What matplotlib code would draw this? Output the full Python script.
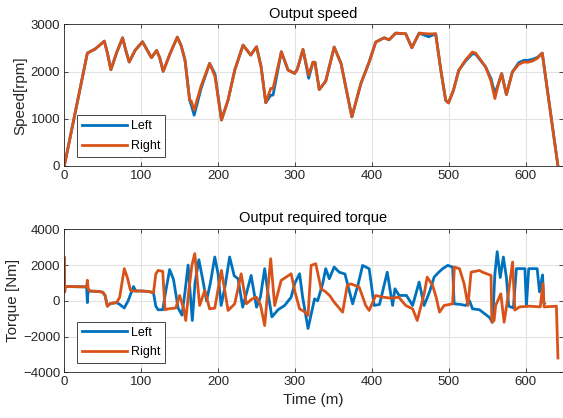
import matplotlib
matplotlib.use("Agg")
import matplotlib.pyplot as plt

plt.rcParams['font.family'] = ['Liberation Sans', 'DejaVu Sans']

# speed (rpm) vs time
t_speed = [0, 30, 40, 46, 52, 56, 60.6, 68, 75.8, 80, 84.4, 92, 101.7, 108, 113.4, 120, 124, 128.6, 138, 147,
           152, 157, 163, 165, 168.9, 178, 189, 196, 204.4, 213, 221.7, 232.5, 242.5, 250, 256, 262, 268.5, 271.5,
           282.3, 291, 299.6, 303, 310.4, 317.8, 323.4, 326, 331.6, 340, 351, 360, 367, 374, 385.7, 396.5, 405,
           416, 422.5, 431, 444, 452, 461.5, 474, 483, 490, 496, 499.6, 506, 513, 522, 530.7, 535, 548, 555, 560,
           564, 568.8, 575, 582.7, 591, 597.8, 603, 608.7, 615, 621.6, 642]
speed_right = [0, 2394, 2480, 2560, 2648, 2400, 2042, 2400, 2718, 2450, 2204, 2450, 2634, 2450, 2296, 2450, 2300,
               2007, 2400, 2732, 2550, 2245, 1398, 1380, 1186, 1700, 2175, 1900, 975, 1398, 2034, 2563, 2352, 2528,
               2100, 1341, 1645, 1645, 2422, 2034, 1963, 2050, 2472, 1928, 2200, 2200, 1620, 1800, 2521, 2169, 1600,
               1042, 1746, 2204, 2627, 2718, 2676, 2817, 2803, 2507, 2817, 2800, 2803, 2000, 1394, 1338, 1600, 2028,
               2250, 2415, 2394, 2099, 1800, 1430, 1700, 1958, 1514, 1993, 2155, 2204, 2200, 2225, 2280, 2394, 0]
speed_left = [0, 2394, 2480, 2560, 2648, 2400, 2042, 2400, 2718, 2450, 2204, 2450, 2634, 2450, 2296, 2450, 2300,
              2007, 2400, 2732, 2550, 2245, 1398, 1300, 1077, 1650, 2175, 1950, 975, 1398, 2034, 2563, 2352, 2528,
              2100, 1341, 1500, 1504, 2422, 2034, 1963, 2050, 2472, 1860, 2200, 2200, 1620, 1800, 2521, 2169, 1600,
              1042, 1746, 2204, 2627, 2718, 2676, 2817, 2803, 2507, 2817, 2740, 2803, 2000, 1394, 1338, 1600, 2028,
              2230, 2380, 2370, 2099, 1850, 1535, 1720, 1958, 1514, 1993, 2190, 2240, 2240, 2260, 2300, 2394, 0]

# torque (Nm) vs time
t_tq_left = [0, 0.5, 1, 29, 30, 31, 33, 45, 50, 53, 56, 60, 68, 72, 78, 83, 90, 93, 100, 110, 116, 119, 122, 128,
             131, 137, 142, 148, 153, 157, 161, 166.5, 170, 175, 180, 185, 190, 195.7, 200, 204, 209, 215, 221, 226,
             232, 238, 243, 250, 255, 260.6, 265, 270, 278, 286.6, 295, 300, 306, 310, 317, 325.5, 329.5, 336, 340,
             344.6, 351, 357.6, 365, 375, 382, 388, 396.5, 403, 410, 420, 427, 430, 435.5, 445, 453, 461.5, 468,
             475, 481, 487, 492, 498.7, 505, 507, 515, 522, 527, 531, 540, 544, 552.6, 557, 560, 563, 567, 571, 575,
             578, 584, 588, 599, 601, 604, 615, 618, 622, 623.5, 624.5]
tq_left = [2400, 500, 800, 780, -100, 600, 550, 520, 480, 300, -300, -150, -100, -200, -400, 0, 800, 550, 550, 520,
           450, -300, -500, -500, 300, 1750, 1200, -400, -800, 500, 2000, -1100, 1000, 2300, 1200, 0, 1000, 2450,
           1500, -260, 800, 2450, 1400, 1234, -355, 600, 1420, -355, 200, 1795, 400, -900, -500, -260, 200, 1000,
           1514, 200, -1550, 112, 0, 950, 1800, 1234, 1890, 1600, 1500, -170, 900, 1980, 1795, -260, -200, 1600,
           -260, 673, 300, 300, -260, 1047, -260, 500, 1328, 1600, 1795, 1982, 1890, -170, -200, -260, 0, -450,
           -500, -636, -916, -1200, 1500, 2750, 1300, 2450, 1300, -300, -400, 1800, 1800, -300, 1800, 1800, 500,
           1450, -100, -150]
t_tq_right = [0, 0.5, 1, 29, 30, 31, 33, 45, 50, 53, 56, 60, 68, 72, 78, 82, 86, 90, 100, 110, 116, 119, 122, 128,
              131, 135, 145, 150, 155, 158, 162, 166, 169.7, 176, 182.7, 189, 195.7, 204.3, 213, 221.6, 230, 236.8,
              244, 249.8, 255, 260.6, 268.4, 273.6, 282, 295, 300, 306, 312, 317, 321, 327, 334, 340, 345, 351, 362,
              368, 372.7, 383.5, 392, 396.5, 405, 414, 425, 435, 444, 453, 459, 468, 472, 479, 483.6, 488, 494, 505,
              507.3, 514, 520, 525, 529, 540, 544, 555, 556, 559, 561, 567.7, 572, 576, 583, 586, 592, 605, 619,
              622.5, 624, 640, 642]
tq_right = [2400, 500, 800, 780, 1150, 700, 550, 520, 480, 300, -300, -150, -100, 200, 1800, 1300, 600, 550, 550,
            520, 450, 1500, 1700, 1650, -500, -450, -400, 300, -400, -1100, 600, 2000, 2640, -260, 580, -450, -410,
            1700, -540, -170, 1514, -168, 100, 205, -200, -1384, 2356, -262, 1140, 1514, 500, -450, -600, -822, 1982,
            2075, 673, 500, 300, -75, -636, 860, 950, 767, -260, -540, 300, 205, 150, 200, -260, -450, -1100, 392,
            1328, 860, 205, -636, -260, -170, 1890, 1795, 950, -260, 1600, 1700, 1600, 1420, -1200, -1100, -260,
            392, -1200, -75, 2170, -520, -340, -300, -340, 970, -340, -300, -3200]

blue = '#0072BD'
orange = '#D95319'
dark = '#262626'

fig = plt.figure(figsize=(5.63, 4.18), dpi=100)
ax1 = fig.add_axes([0.1142, 0.6029, 0.885, 0.3385])
ax2 = fig.add_axes([0.1142, 0.1093, 0.885, 0.3421])


def style(ax):
    ax.set_xlim(0, 648)
    ax.set_xticks(range(0, 700, 100))
    ax.grid(True, color='#e3e3e3', linewidth=0.8)
    ax.set_axisbelow(True)
    ax.tick_params(direction='in', length=3, width=0.6, colors=dark, labelsize=9.5,
                   top=True, right=True, pad=3)
    for s in ax.spines.values():
        s.set_color(dark)
        s.set_linewidth(0.6)


ax1.plot(t_speed, speed_left, color=blue, lw=2, label='Left')
ax1.plot(t_speed, speed_right, color=orange, lw=2, label='Right')
style(ax1)
ax1.set_ylim(0, 3000)
ax1.set_yticks([0, 1000, 2000, 3000])
ax1.set_title('Output speed', fontsize=10.5, pad=5)
ax1.set_ylabel('Speed[rpm]', fontsize=11, color=dark, labelpad=2)

ax2.plot(t_tq_left, tq_left, color=blue, lw=2, label='Left')
ax2.plot(t_tq_right, tq_right, color=orange, lw=2, label='Right')
style(ax2)
ax2.set_ylim(-4000, 4000)
ax2.set_yticks([-4000, -2000, 0, 2000, 4000])
ax2.set_title('Output required torque', fontsize=10.5, pad=5)
ax2.set_ylabel('Torque [Nm]', fontsize=11, color=dark, labelpad=2)
ax2.set_xlabel('Time (m)', fontsize=11, color=dark, labelpad=3)

for ax in (ax1, ax2):
    leg = ax.legend(loc='lower left', bbox_to_anchor=(0.026, 0.064), fontsize=9, fancybox=False,
                    framealpha=1, edgecolor=dark, handlelength=3.6, borderaxespad=0, labelspacing=0.6,
                    handletextpad=0.3, borderpad=0.4)
    leg.get_frame().set_linewidth(0.6)

fig.savefig('out.png', dpi=100)
